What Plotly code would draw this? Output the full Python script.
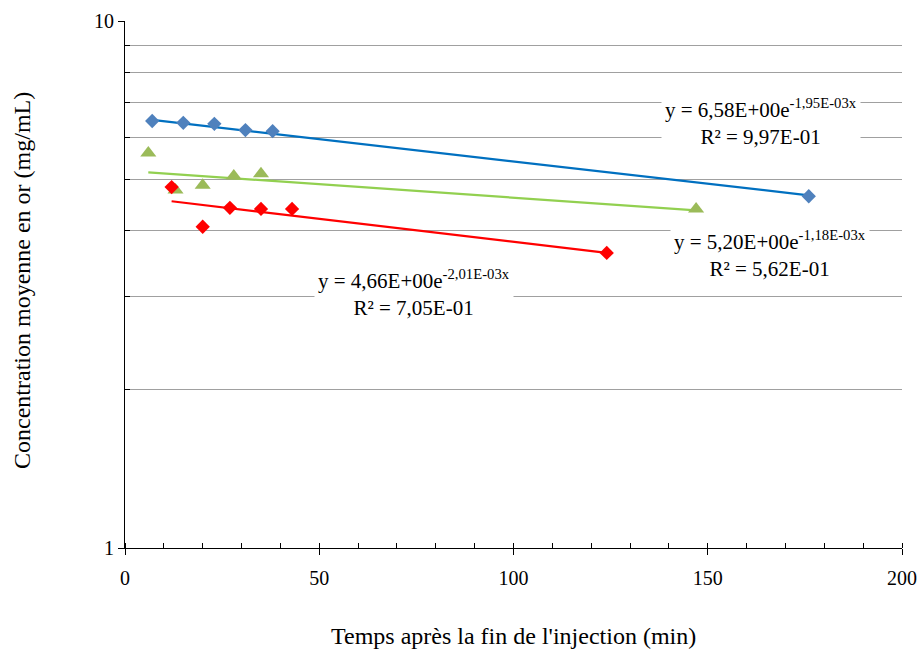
import numpy as np
import plotly.graph_objects as go

# ---- data ----
blue_x = [7, 15, 23, 31, 38, 176]
blue_y = [6.46, 6.41, 6.38, 6.21, 6.18, 4.65]

green_x = [6, 13, 20, 28, 35, 147]
green_y = [5.62, 4.78, 4.88, 5.08, 5.13, 4.40]

red_x = [12, 20, 27, 35, 43, 124]
red_y = [4.84, 4.07, 4.42, 4.40, 4.40, 3.63]

# exponential trend-line coefficients y = a * exp(b x), as printed on the chart
trend_a = [6.58, 5.20, 4.66]
trend_b = [-1.95e-3, -1.18e-3, -2.01e-3]
trend_r2 = ["9,97E-01", "5,62E-01", "7,05E-01"]
trend_a_txt = ["6,58E+00", "5,20E+00", "4,66E+00"]
trend_b_txt = ["-1,95E-03", "-1,18E-03", "-2,01E-03"]

x_ticks = [0, 50, 100, 150, 200]
y_ticks = [1, 10]
y_minor = [2, 3, 4, 5, 6, 7, 8, 9]

FONT = "'Liberation Serif', 'Times New Roman', Times, serif"

series = [
    (blue_x, blue_y, "#0070C0", "#4F81BD", "diamond", 11),
    (green_x, green_y, "#92D050", "#9BBB59", "triangle-up", 14),
    (red_x, red_y, "#FF0000", "#FF0000", "diamond", 11),
]

fig = go.Figure()

# trend lines (straight on a log axis -> endpoints suffice)
for i, (xs, ys, lc, mc, sym, ms) in enumerate(series):
    x0, x1 = min(xs), max(xs)
    tx = [x0, x1]
    ty = [trend_a[i] * np.exp(trend_b[i] * v) for v in tx]
    fig.add_trace(go.Scatter(x=tx, y=ty, mode="lines",
                             line=dict(color=lc, width=2.2),
                             showlegend=False, hoverinfo="skip"))

for xs, ys, lc, mc, sym, ms in series:
    fig.add_trace(go.Scatter(x=xs, y=ys, mode="markers",
                             marker=dict(symbol=sym, size=ms, color=mc,
                                         line=dict(width=0)),
                             showlegend=False))

# equation labels
label_pos = [(163.8, 0.8083), (165.9, 0.557), (74.3, 0.4848)]
for i, (lx, ly) in enumerate(label_pos):
    fig.add_annotation(
        x=lx, y=ly, xref="x", yref="y", showarrow=False,
        text=f"y = {trend_a_txt[i]}e<sup>{trend_b_txt[i]}x</sup><br>R² = {trend_r2[i]}",
        align="center", bgcolor="white", borderpad=3,
        font=dict(family=FONT, size=21, color="black"),
    )

# axis titles
fig.add_annotation(x=0.5, y=-0.167, xref="paper", yref="paper", showarrow=False,
                   text="Temps après la fin de l'injection (min)",
                   font=dict(family=FONT, size=24, color="black"),
                   yanchor="middle")
fig.add_annotation(x=-0.1326, y=0.5085, xref="paper", yref="paper", showarrow=False,
                   text="Concentration moyenne en or (mg/mL)", textangle=-90,
                   font=dict(family=FONT, size=24, color="black"),
                   xanchor="center")

fig.update_layout(
    width=920, height=650, autosize=False,
    margin=dict(l=125, r=18, t=21, b=102),
    paper_bgcolor="white", plot_bgcolor="white",
    font=dict(family=FONT, size=20, color="black"),
    showlegend=False,
)

fig.update_xaxes(
    range=[0, 200], tickvals=x_ticks, showgrid=False, zeroline=False,
    automargin=False, ticklabelstandoff=6,
    showline=True, linecolor="black", linewidth=1,
    ticks="outside", ticklen=6, tickcolor="black",
    minor=dict(dtick=10, ticks="inside", ticklen=5, tickcolor="black"),
    tickfont=dict(family=FONT, size=20),
)

fig.update_yaxes(
    type="log", range=[0, 1], tickvals=y_ticks, ticktext=["1", "10"],
    automargin=False,
    showgrid=True, gridcolor="#a0a0a0", gridwidth=1, zeroline=False,
    showline=True, linecolor="black", linewidth=1,
    ticks="outside", ticklen=6, tickcolor="black",
    minor=dict(tickvals=y_minor, ticks="inside", ticklen=5, tickcolor="black",
               showgrid=True, gridcolor="#a0a0a0", gridwidth=1),
    tickfont=dict(family=FONT, size=20),
)

fig.write_html("out.html",
               config={"responsive": False, "displayModeBar": False},
               post_script="document.body.style.margin='0px';document.body.style.overflow='hidden';")
